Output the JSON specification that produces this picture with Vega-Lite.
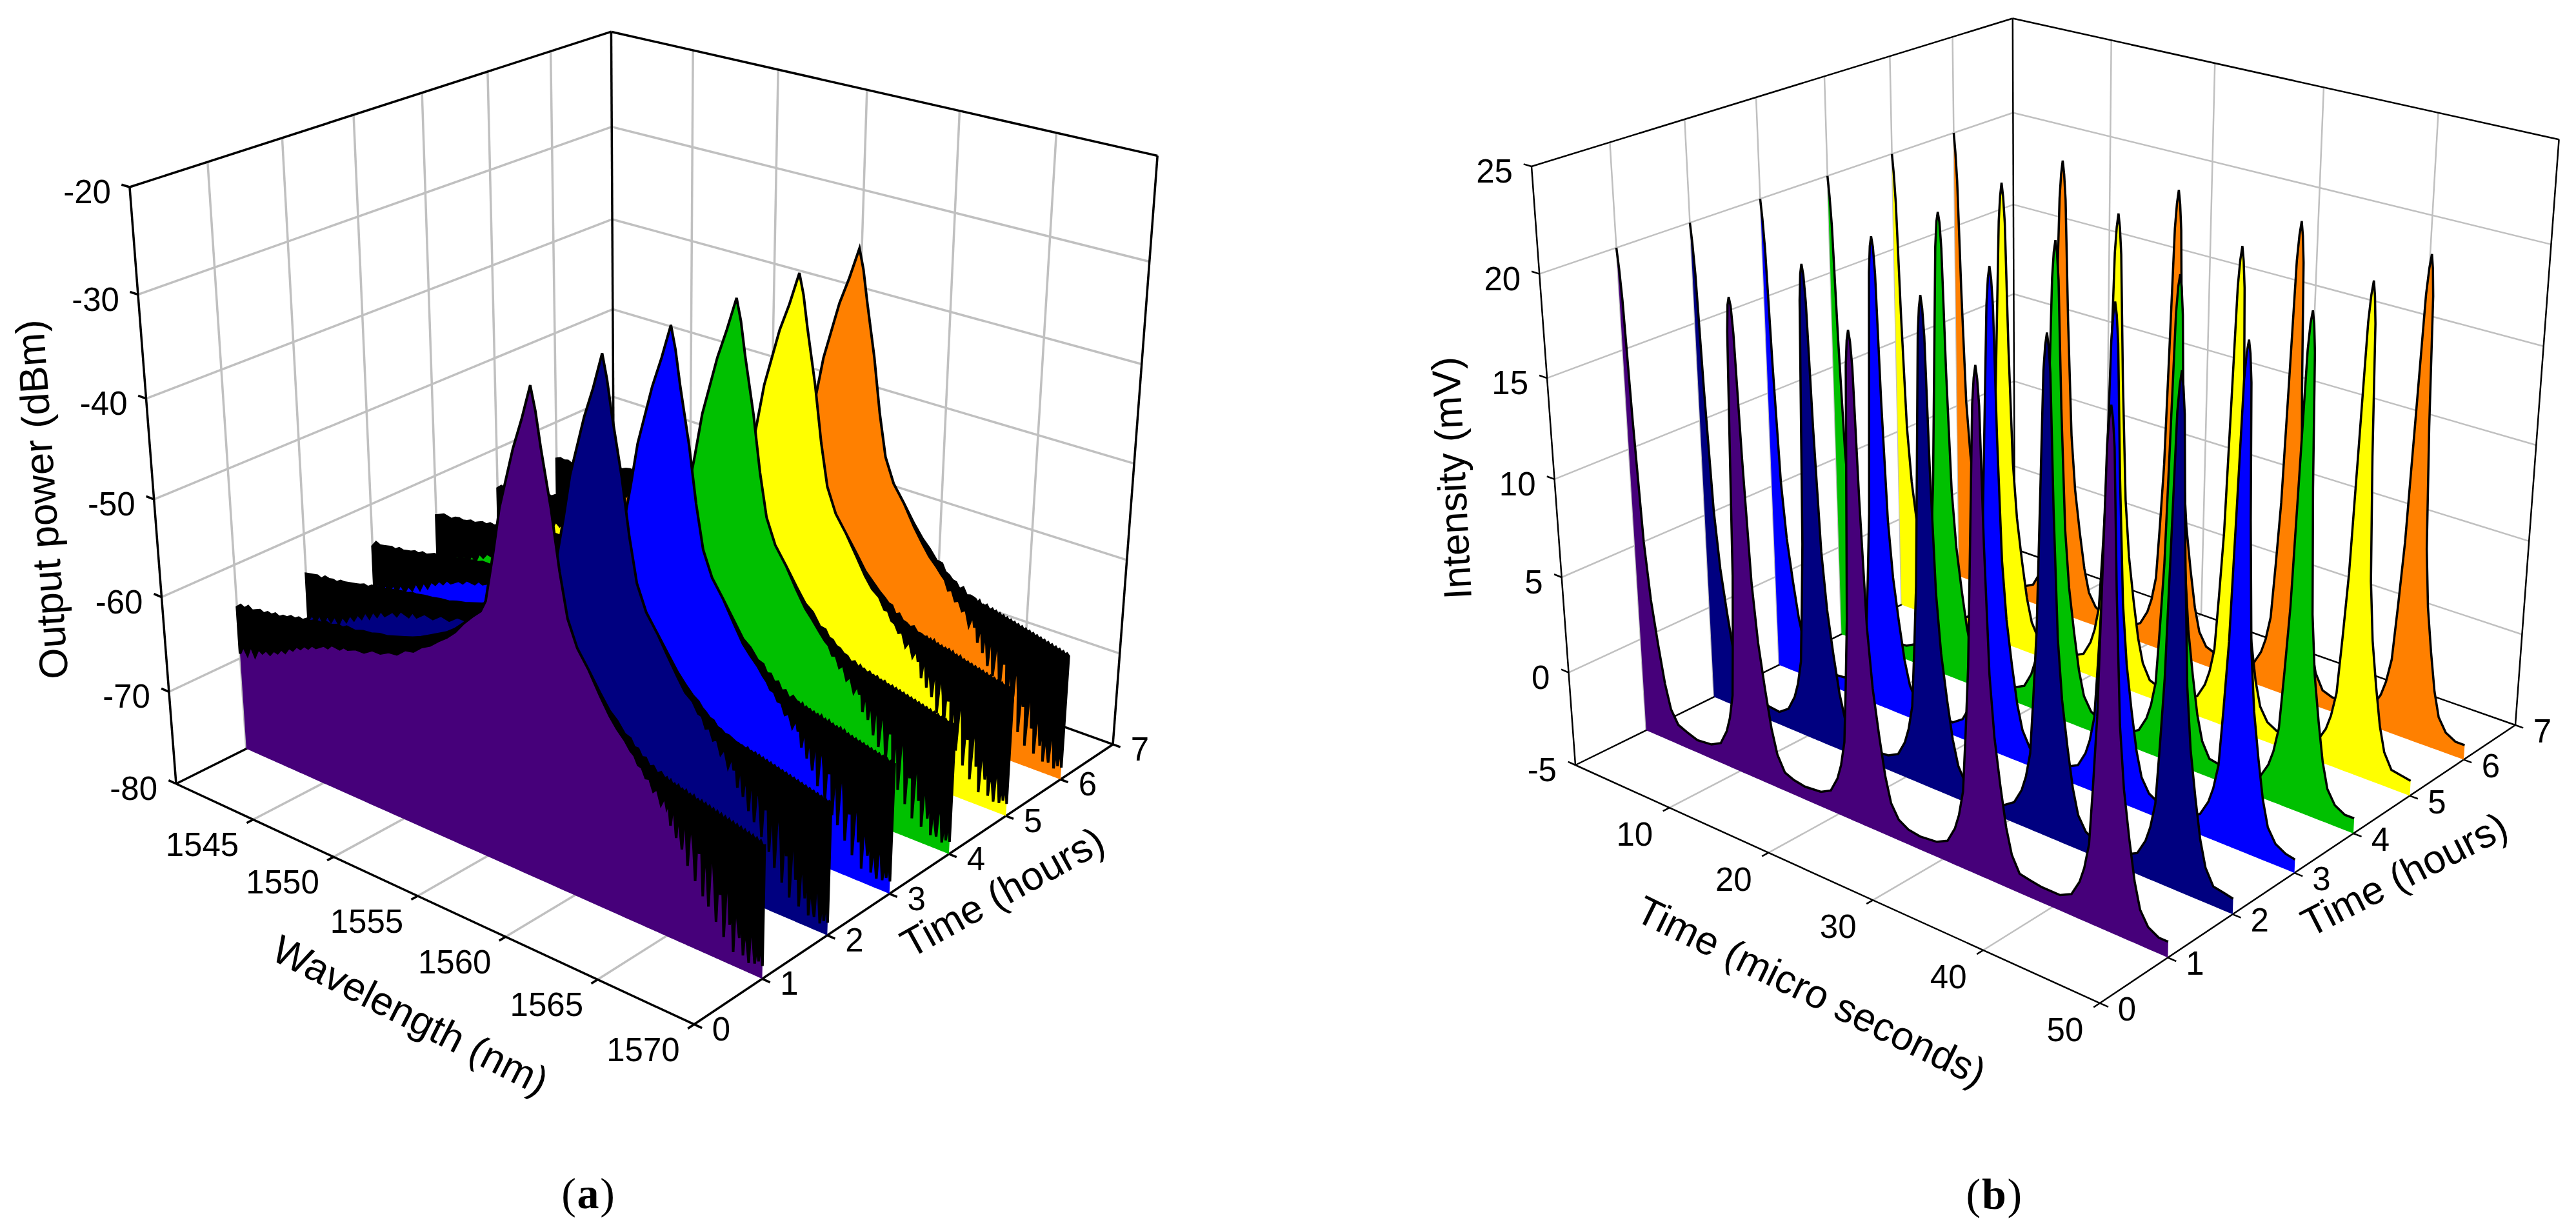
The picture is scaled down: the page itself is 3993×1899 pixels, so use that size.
{"$schema":"https://vega.github.io/schema/vega-lite/v6.json","width":3993,"height":1899,"padding":0,"autosize":"none","background":"white","config":{"view":{"stroke":null}},
"layer":[
{"data":{"values":[
{"k":"g","a":1545,"b":7,"c":-80,"d":1545,"e":7,"f":-20},{"k":"g","a":1550,"b":7,"c":-80,"d":1550,"e":7,"f":-20},{"k":"g","a":1555,"b":7,"c":-80,"d":1555,"e":7,"f":-20},{"k":"g","a":1560,"b":7,"c":-80,"d":1560,"e":7,"f":-20},{"k":"g","a":1565,"b":7,"c":-80,"d":1565,"e":7,"f":-20},
{"k":"g","a":1540,"b":7,"c":-30,"d":1570,"e":7,"f":-30},{"k":"g","a":1540,"b":7,"c":-40,"d":1570,"e":7,"f":-40},{"k":"g","a":1540,"b":7,"c":-50,"d":1570,"e":7,"f":-50},{"k":"g","a":1540,"b":7,"c":-60,"d":1570,"e":7,"f":-60},{"k":"g","a":1540,"b":7,"c":-70,"d":1570,"e":7,"f":-70},
{"k":"g","a":1540,"b":1,"c":-80,"d":1540,"e":1,"f":-20},{"k":"g","a":1540,"b":2,"c":-80,"d":1540,"e":2,"f":-20},{"k":"g","a":1540,"b":3,"c":-80,"d":1540,"e":3,"f":-20},{"k":"g","a":1540,"b":4,"c":-80,"d":1540,"e":4,"f":-20},{"k":"g","a":1540,"b":5,"c":-80,"d":1540,"e":5,"f":-20},{"k":"g","a":1540,"b":6,"c":-80,"d":1540,"e":6,"f":-20},
{"k":"g","a":1540,"b":0,"c":-30,"d":1540,"e":7,"f":-30},{"k":"g","a":1540,"b":0,"c":-40,"d":1540,"e":7,"f":-40},{"k":"g","a":1540,"b":0,"c":-50,"d":1540,"e":7,"f":-50},{"k":"g","a":1540,"b":0,"c":-60,"d":1540,"e":7,"f":-60},{"k":"g","a":1540,"b":0,"c":-70,"d":1540,"e":7,"f":-70},
{"k":"g","a":1545,"b":0,"c":-80,"d":1545,"e":7,"f":-80},{"k":"g","a":1550,"b":0,"c":-80,"d":1550,"e":7,"f":-80},{"k":"g","a":1555,"b":0,"c":-80,"d":1555,"e":7,"f":-80},{"k":"g","a":1560,"b":0,"c":-80,"d":1560,"e":7,"f":-80},{"k":"g","a":1565,"b":0,"c":-80,"d":1565,"e":7,"f":-80},
{"k":"f","a":1540,"b":0,"c":-80,"d":1570,"e":0,"f":-80},{"k":"f","a":1570,"b":0,"c":-80,"d":1570,"e":7,"f":-80},{"k":"f","a":1540,"b":0,"c":-80,"d":1540,"e":7,"f":-80},{"k":"f","a":1540,"b":7,"c":-80,"d":1570,"e":7,"f":-80},{"k":"f","a":1540,"b":0,"c":-80,"d":1540,"e":0,"f":-20},{"k":"f","a":1540,"b":0,"c":-20,"d":1540,"e":7,"f":-20},{"k":"f","a":1540,"b":7,"c":-20,"d":1570,"e":7,"f":-20},{"k":"f","a":1570,"b":7,"c":-80,"d":1570,"e":7,"f":-20},{"k":"f","a":1540,"b":7,"c":-80,"d":1540,"e":7,"f":-20},
{"k":"f","a":1540,"b":0,"c":-80,"d":1539.5,"e":0,"f":-80},{"k":"f","a":1540,"b":0,"c":-70,"d":1539.5,"e":0,"f":-70},{"k":"f","a":1540,"b":0,"c":-60,"d":1539.5,"e":0,"f":-60},{"k":"f","a":1540,"b":0,"c":-50,"d":1539.5,"e":0,"f":-50},{"k":"f","a":1540,"b":0,"c":-40,"d":1539.5,"e":0,"f":-40},{"k":"f","a":1540,"b":0,"c":-30,"d":1539.5,"e":0,"f":-30},{"k":"f","a":1540,"b":0,"c":-20,"d":1539.5,"e":0,"f":-20},
{"k":"f","a":1545,"b":0,"c":-80,"d":1545,"e":-0.09,"f":-80},{"k":"f","a":1550,"b":0,"c":-80,"d":1550,"e":-0.09,"f":-80},{"k":"f","a":1555,"b":0,"c":-80,"d":1555,"e":-0.09,"f":-80},{"k":"f","a":1560,"b":0,"c":-80,"d":1560,"e":-0.09,"f":-80},{"k":"f","a":1565,"b":0,"c":-80,"d":1565,"e":-0.09,"f":-80},{"k":"f","a":1570,"b":0,"c":-80,"d":1570,"e":-0.09,"f":-80},
{"k":"f","a":1570,"b":0,"c":-80,"d":1570.4,"e":0,"f":-80},{"k":"f","a":1570,"b":1,"c":-80,"d":1570.4,"e":1,"f":-80},{"k":"f","a":1570,"b":2,"c":-80,"d":1570.4,"e":2,"f":-80},{"k":"f","a":1570,"b":3,"c":-80,"d":1570.4,"e":3,"f":-80},{"k":"f","a":1570,"b":4,"c":-80,"d":1570.4,"e":4,"f":-80},{"k":"f","a":1570,"b":5,"c":-80,"d":1570.4,"e":5,"f":-80},{"k":"f","a":1570,"b":6,"c":-80,"d":1570.4,"e":6,"f":-80},{"k":"f","a":1570,"b":7,"c":-80,"d":1570.4,"e":7,"f":-80}
]},
"transform":[
{"calculate":"(datum.a-1540)/30","as":"u"},{"calculate":"datum.b/7","as":"v"},{"calculate":"(datum.c+80)/60","as":"w"},
{"calculate":"1-.1263*datum.u+.1447*datum.v-.0894*datum.w","as":"W"},
{"calculate":"(273+667*datum.u+816.8*datum.v-90*datum.w)/datum.W","as":"sx"},
{"calculate":"(1215+172.4*datum.u-212.2*datum.v-950.9*datum.w)/datum.W","as":"sy"},
{"calculate":"(datum.d-1540)/30","as":"u2"},{"calculate":"datum.e/7","as":"v2"},{"calculate":"(datum.f+80)/60","as":"w2"},
{"calculate":"1-.1263*datum.u2+.1447*datum.v2-.0894*datum.w2","as":"W2"},
{"calculate":"(273+667*datum.u2+816.8*datum.v2-90*datum.w2)/datum.W2","as":"sx2"},
{"calculate":"(1215+172.4*datum.u2-212.2*datum.v2-950.9*datum.w2)/datum.W2","as":"sy2"}],
"encoding":{"x":{"field":"sx","type":"quantitative","axis":null,"scale":{"domain":[0,3993],"nice":false,"zero":false}},"y":{"field":"sy","type":"quantitative","axis":null,"scale":{"domain":[0,1899],"reverse":true,"nice":false,"zero":false}},"x2":{"field":"sx2"},"y2":{"field":"sy2"}},
"layer":[
{"transform":[{"filter":"datum.k=='g'"}],"mark":{"type":"rule","color":"#C0C0C0","strokeWidth":3.5}},
{"transform":[{"filter":"datum.k=='f'"}],"mark":{"type":"rule","color":"#000","strokeWidth":3.5}}
]},
{"data":{"values":[
{"x":1540,"a":-64.5,"b":-64.3,"c":-64.6,"d":-64.4,"e":-64.5,"f":-64.2,"n":5},
{"x":1540.25,"a":-64.1,"b":-64.2,"c":-64,"d":-64.2,"e":-64.1,"f":-64,"n":4.4},
{"x":1540.5,"a":-64.3,"b":-64.1,"c":-64.2,"d":-64,"e":-64.2,"f":-64.1,"n":5},
{"x":1540.75,"a":-63.9,"b":-64,"c":-64.1,"d":-64.1,"e":-63.9,"f":-64,"n":4.2},
{"x":1541,"a":-64.2,"b":-64.2,"c":-64,"d":-64.2,"e":-64.1,"f":-64.2,"n":4.9},
{"x":1541.25,"a":-64,"b":-63.8,"c":-63.9,"d":-63.9,"e":-64,"f":-63.8,"n":4.1},
{"x":1541.5,"a":-63.8,"b":-63.9,"c":-64,"d":-63.8,"e":-63.8,"f":-63.9,"n":4.6},
{"x":1541.75,"a":-64,"b":-63.8,"c":-63.7,"d":-63.9,"e":-63.9,"f":-63.7,"n":3.9},
{"x":1542,"a":-63.7,"b":-63.9,"c":-63.8,"d":-63.8,"e":-63.7,"f":-63.8,"n":4.5},
{"x":1542.25,"a":-63.8,"b":-63.6,"c":-63.7,"d":-63.6,"e":-63.8,"f":-63.6,"n":3.8},
{"x":1542.5,"a":-63.5,"b":-63.6,"c":-63.6,"d":-63.7,"e":-63.5,"f":-63.7,"n":4.2},
{"x":1542.75,"a":-63.7,"b":-63.5,"c":-63.4,"d":-63.5,"e":-63.6,"f":-63.5,"n":3.4},
{"x":1543,"a":-63.4,"b":-63.4,"c":-63.5,"d":-63.3,"e":-63.4,"f":-63.4,"n":3.9},
{"x":1543.25,"a":-63.4,"b":-63.3,"c":-63.2,"d":-63.4,"e":-63.2,"f":-63.3,"n":3.2},
{"x":1543.5,"a":-63.1,"b":-63.2,"c":-63.3,"d":-63.1,"e":-63.3,"f":-63.1,"n":3.6},
{"x":1543.75,"a":-63.2,"b":-63,"c":-63.1,"d":-63.2,"e":-63,"f":-63.2,"n":2.9},
{"x":1544,"a":-62.9,"b":-63.1,"c":-62.9,"d":-63,"e":-63,"f":-62.9,"n":3.3},
{"x":1544.25,"a":-63,"b":-62.8,"c":-62.9,"d":-62.8,"e":-62.9,"f":-62.9,"n":2.7},
{"x":1544.5,"a":-62.7,"b":-62.8,"c":-62.7,"d":-62.9,"e":-62.7,"f":-62.7,"n":3.1},
{"x":1544.75,"a":-62.8,"b":-62.6,"c":-62.7,"d":-62.6,"e":-62.8,"f":-62.6,"n":2.5},
{"x":1545,"a":-62.5,"b":-62.6,"c":-62.5,"d":-62.6,"e":-62.5,"f":-62.6,"n":2.9},
{"x":1545.5,"a":-62.5,"b":-62.4,"c":-62.5,"d":-62.4,"e":-62.4,"f":-62.5,"n":2.3},
{"x":1545.75,"a":-62.2,"b":-62.3,"c":-62.2,"d":-62.3,"e":-62.3,"f":-62.2,"n":2.7},
{"x":1546,"a":-62.3,"b":-62.2,"c":-62.3,"d":-62.1,"e":-62.2,"f":-62.3,"n":2.1},
{"x":1546.5,"a":-62,"b":-62.1,"c":-62,"d":-62.1,"e":-62,"f":-62,"n":2.5},
{"x":1546.75,"a":-62.1,"b":-61.9,"c":-62,"d":-61.9,"e":-62,"f":-61.9,"n":2},
{"x":1547,"a":-61.8,"b":-61.9,"c":-61.8,"d":-61.9,"e":-61.8,"f":-61.9,"n":2.4},
{"x":1547.5,"a":-61.9,"b":-61.7,"c":-61.8,"d":-61.7,"e":-61.7,"f":-61.8,"n":1.9},
{"x":1548,"a":-61.6,"b":-61.6,"c":-61.6,"d":-61.7,"e":-61.5,"f":-61.6,"n":2.2},
{"x":1548.5,"a":-61.5,"b":-61.4,"c":-61.5,"d":-61.4,"e":-61.5,"f":-61.4,"n":1.7},
{"x":1549,"a":-61.2,"b":-61.3,"c":-61.2,"d":-61.2,"e":-61.3,"f":-61.2,"n":2},
{"x":1549.5,"a":-61.1,"b":-61,"c":-61.1,"d":-61,"e":-61,"f":-61.1,"n":1.6},
{"x":1550,"a":-60.8,"b":-60.8,"c":-60.8,"d":-60.9,"e":-60.8,"f":-60.8,"n":1.8},
{"x":1550.5,"a":-60.5,"b":-60.5,"c":-60.5,"d":-60.4,"e":-60.5,"f":-60.5,"n":1.3},
{"x":1551,"a":-60.2,"b":-60.2,"c":-60.2,"d":-60.2,"e":-60.2,"f":-60.2,"n":1.4},
{"x":1551.5,"a":-59.8,"b":-59.8,"c":-59.8,"d":-59.8,"e":-59.8,"f":-59.8,"n":1},
{"x":1552,"a":-59.3,"b":-59.3,"c":-59.3,"d":-59.3,"e":-59.3,"f":-59.3,"n":1},
{"x":1552.5,"a":-58.8,"b":-58.8,"c":-58.8,"d":-58.8,"e":-58.8,"f":-58.8,"n":0.7},
{"x":1553,"a":-58.3,"b":-58.3,"c":-58.3,"d":-58.3,"e":-58.3,"f":-58.3,"n":0.5},
{"x":1553.5,"a":-57.6,"b":-57.6,"c":-57.6,"d":-57.6,"e":-57.6,"f":-57.6,"n":0.3},
{"x":1554,"a":-56.7,"b":-56.7,"c":-56.7,"d":-56.7,"e":-56.7,"f":-56.7,"n":0},
{"x":1554.5,"a":-55.7,"b":-55.7,"c":-55.7,"d":-55.7,"e":-55.7,"f":-55.7,"n":0},
{"x":1555,"a":-54.8,"b":-54.8,"c":-54.8,"d":-54.8,"e":-54.8,"f":-54.8,"n":0},
{"x":1555.3,"a":-53.6,"b":-53.6,"c":-53.6,"d":-53.6,"e":-53.6,"f":-53.6,"n":0},
{"x":1555.8,"a":-48.5,"b":-48.5,"c":-48.5,"d":-48.5,"e":-48.5,"f":-48.5,"n":0},
{"x":1556.2,"a":-44,"b":-44,"c":-44,"d":-44,"e":-44,"f":-44,"n":0},
{"x":1556.6,"a":-41,"b":-41,"c":-41,"d":-41,"e":-41,"f":-41,"n":0},
{"x":1557,"a":-38,"b":-38,"c":-38,"d":-38,"e":-38,"f":-38,"n":0},
{"x":1557.5,"a":-35,"b":-35,"c":-35,"d":-35,"e":-35.2,"f":-35.2,"n":0},
{"x":1558,"a":-31.6,"b":-31.5,"c":-31.6,"d":-31.7,"e":-31.9,"f":-32,"n":0},
{"x":1558.25,"a":-33.8,"b":-33.8,"c":-33.8,"d":-33.8,"e":-33.9,"f":-34,"n":0},
{"x":1558.5,"a":-37,"b":-37,"c":-37,"d":-37,"e":-37,"f":-37,"n":0},
{"x":1559,"a":-42.5,"b":-42.5,"c":-42.5,"d":-42.5,"e":-42.5,"f":-42.5,"n":0},
{"x":1559.4,"a":-48,"b":-48,"c":-48,"d":-48,"e":-48,"f":-48,"n":0},
{"x":1559.8,"a":-52.3,"b":-52.3,"c":-52.3,"d":-52.3,"e":-52.3,"f":-52.3,"n":0},
{"x":1560.3,"a":-54.8,"b":-54.8,"c":-54.8,"d":-54.8,"e":-54.8,"f":-54.8,"n":0},
{"x":1560.9,"a":-56.5,"b":-56.5,"c":-56.5,"d":-56.5,"e":-56.5,"f":-56.5,"n":0},
{"x":1561.5,"a":-58.3,"b":-58.2,"c":-58.3,"d":-58.3,"e":-58.2,"f":-58.3,"n":0.3},
{"x":1562,"a":-59.7,"b":-59.6,"c":-59.8,"d":-59.7,"e":-59.7,"f":-59.6,"n":0.5},
{"x":1562.4,"a":-60.4,"b":-60.5,"c":-60.4,"d":-60.3,"e":-60.5,"f":-60.4,"n":0.8},
{"x":1562.8,"a":-61.4,"b":-61.3,"c":-61.4,"d":-61.5,"e":-61.3,"f":-61.4,"n":0.6},
{"x":1563.1,"a":-61.6,"b":-61.7,"c":-61.6,"d":-61.6,"e":-61.8,"f":-61.5,"n":1.2},
{"x":1563.3,"a":-62.3,"b":-62.2,"c":-62.4,"d":-62.3,"e":-62.2,"f":-62.3,"n":0.8},
{"x":1563.5,"a":-62.3,"b":-62.5,"c":-62.3,"d":-62.4,"e":-62.3,"f":-62.5,"n":1.6},
{"x":1563.7,"a":-63,"b":-62.9,"c":-63,"d":-62.9,"e":-63.1,"f":-62.9,"n":1},
{"x":1563.9,"a":-62.9,"b":-63,"c":-62.8,"d":-63,"e":-62.9,"f":-63,"n":2},
{"x":1564.1,"a":-63.6,"b":-63.5,"c":-63.6,"d":-63.4,"e":-63.5,"f":-63.6,"n":1.2},
{"x":1564.3,"a":-63.4,"b":-63.6,"c":-63.4,"d":-63.5,"e":-63.6,"f":-63.3,"n":2.5},
{"x":1564.5,"a":-64,"b":-63.9,"c":-64.1,"d":-64,"e":-63.9,"f":-64,"n":1.5},
{"x":1564.7,"a":-63.7,"b":-63.9,"c":-63.7,"d":-63.8,"e":-63.7,"f":-63.9,"n":3.2},
{"x":1564.9,"a":-64.2,"b":-64.1,"c":-64.1,"d":-64.3,"e":-64.2,"f":-64,"n":1.8},
{"x":1565,"a":-64,"b":-64.2,"c":-64.1,"d":-64,"e":-64.2,"f":-64.1,"n":3},
{"x":1565.1,"a":-64.4,"b":-64.3,"c":-64.4,"d":-64.3,"e":-64.2,"f":-64.4,"n":2},
{"x":1565.2,"a":-64.1,"b":-64.3,"c":-64.1,"d":-64.2,"e":-64.3,"f":-64.1,"n":4.5},
{"x":1565.3,"a":-64.5,"b":-64.4,"c":-64.6,"d":-64.4,"e":-64.4,"f":-64.5,"n":2.5},
{"x":1565.4,"a":-64.3,"b":-64.4,"c":-64.3,"d":-64.5,"e":-64.3,"f":-64.4,"n":3},
{"x":1565.5,"a":-64.6,"b":-64.5,"c":-64.5,"d":-64.3,"e":-64.6,"f":-64.5,"n":5},
{"x":1565.6,"a":-64.3,"b":-64.6,"c":-64.4,"d":-64.6,"e":-64.4,"f":-64.3,"n":2.5},
{"x":1565.7,"a":-64.7,"b":-64.4,"c":-64.7,"d":-64.5,"e":-64.7,"f":-64.6,"n":4},
{"x":1565.8,"a":-64.5,"b":-64.7,"c":-64.5,"d":-64.7,"e":-64.4,"f":-64.7,"n":6},
{"x":1565.9,"a":-64.8,"b":-64.6,"c":-64.8,"d":-64.5,"e":-64.8,"f":-64.5,"n":3},
{"x":1566,"a":-64.5,"b":-64.8,"c":-64.6,"d":-64.8,"e":-64.6,"f":-64.8,"n":3.5},
{"x":1566.1,"a":-64.9,"b":-64.6,"c":-64.9,"d":-64.7,"e":-64.9,"f":-64.6,"n":7},
{"x":1566.2,"a":-64.7,"b":-64.9,"c":-64.6,"d":-64.9,"e":-64.7,"f":-64.9,"n":4},
{"x":1566.3,"a":-65,"b":-64.7,"c":-65,"d":-64.7,"e":-65,"f":-64.7,"n":3},
{"x":1566.4,"a":-64.7,"b":-65,"c":-64.8,"d":-65,"e":-64.8,"f":-65,"n":5},
{"x":1566.5,"a":-65.1,"b":-64.8,"c":-65.1,"d":-64.9,"e":-65,"f":-64.8,"n":8},
{"x":1566.6,"a":-64.9,"b":-65.1,"c":-64.8,"d":-65.1,"e":-64.8,"f":-65.1,"n":3.5},
{"x":1566.7,"a":-65.2,"b":-64.9,"c":-65.2,"d":-64.9,"e":-65.2,"f":-64.9,"n":5},
{"x":1566.8,"a":-64.9,"b":-65.2,"c":-65,"d":-65.2,"e":-64.9,"f":-65.2,"n":4},
{"x":1566.9,"a":-65.3,"b":-65,"c":-65.3,"d":-65,"e":-65.3,"f":-65,"n":9},
{"x":1567,"a":-65,"b":-65.3,"c":-65.1,"d":-65.3,"e":-65.1,"f":-65.3,"n":4.5},
{"x":1567.1,"a":-65.4,"b":-65.1,"c":-65.4,"d":-65.1,"e":-65.4,"f":-65.1,"n":6},
{"x":1567.2,"a":-65.1,"b":-65.4,"c":-65.1,"d":-65.4,"e":-65.1,"f":-65.4,"n":10},
{"x":1567.3,"a":-65.5,"b":-65.2,"c":-65.5,"d":-65.2,"e":-65.5,"f":-65.2,"n":5},
{"x":1567.4,"a":-65.2,"b":-65.5,"c":-65.2,"d":-65.5,"e":-65.3,"f":-65.5,"n":4.5},
{"x":1567.5,"a":-65.6,"b":-65.3,"c":-65.6,"d":-65.3,"e":-65.6,"f":-65.3,"n":7},
{"x":1567.6,"a":-65.3,"b":-65.6,"c":-65.4,"d":-65.6,"e":-65.4,"f":-65.6,"n":11},
{"x":1567.7,"a":-65.7,"b":-65.4,"c":-65.7,"d":-65.4,"e":-65.7,"f":-65.4,"n":5.5},
{"x":1567.8,"a":-65.4,"b":-65.7,"c":-65.5,"d":-65.7,"e":-65.5,"f":-65.7,"n":8},
{"x":1567.9,"a":-65.8,"b":-65.5,"c":-65.8,"d":-65.5,"e":-65.8,"f":-65.5,"n":6},
{"x":1568,"a":-65.5,"b":-65.8,"c":-65.6,"d":-65.8,"e":-65.6,"f":-65.8,"n":12},
{"x":1568.1,"a":-65.9,"b":-65.6,"c":-65.9,"d":-65.6,"e":-65.9,"f":-65.6,"n":7},
{"x":1568.2,"a":-65.6,"b":-65.9,"c":-65.7,"d":-65.9,"e":-65.7,"f":-65.9,"n":6},
{"x":1568.3,"a":-66,"b":-65.7,"c":-66,"d":-65.7,"e":-66,"f":-65.7,"n":10},
{"x":1568.4,"a":-65.7,"b":-66,"c":-65.8,"d":-66,"e":-65.8,"f":-66,"n":8},
{"x":1568.5,"a":-66.1,"b":-65.8,"c":-66.1,"d":-65.8,"e":-66.1,"f":-65.8,"n":12.5},
{"x":1568.6,"a":-65.8,"b":-66.1,"c":-65.9,"d":-66.1,"e":-65.9,"f":-66.1,"n":7},
{"x":1568.7,"a":-66.2,"b":-65.9,"c":-66.2,"d":-65.9,"e":-66.2,"f":-65.9,"n":9},
{"x":1568.8,"a":-65.9,"b":-66.2,"c":-66,"d":-66.2,"e":-66,"f":-66.2,"n":11},
{"x":1568.9,"a":-66.3,"b":-66,"c":-66.3,"d":-66,"e":-66.3,"f":-66,"n":8},
{"x":1569,"a":-66,"b":-66.3,"c":-66.1,"d":-66.3,"e":-66.1,"f":-66.3,"n":12.5},
{"x":1569.1,"a":-66.4,"b":-66.1,"c":-66.4,"d":-66.1,"e":-66.4,"f":-66.1,"n":9},
{"x":1569.2,"a":-66.1,"b":-66.4,"c":-66.2,"d":-66.4,"e":-66.2,"f":-66.4,"n":11},
{"x":1569.3,"a":-66.5,"b":-66.2,"c":-66.5,"d":-66.2,"e":-66.5,"f":-66.2,"n":12.5},
{"x":1569.4,"a":-66.2,"b":-66.5,"c":-66.3,"d":-66.5,"e":-66.3,"f":-66.5,"n":8},
{"x":1569.5,"a":-66.6,"b":-66.3,"c":-66.6,"d":-66.3,"e":-66.6,"f":-66.3,"n":10},
{"x":1569.6,"a":-66.3,"b":-66.6,"c":-66.4,"d":-66.6,"e":-66.4,"f":-66.6,"n":12.5},
{"x":1569.7,"a":-66.7,"b":-66.4,"c":-66.7,"d":-66.4,"e":-66.7,"f":-66.4,"n":10},
{"x":1569.8,"a":-66.4,"b":-66.7,"c":-66.5,"d":-66.7,"e":-66.5,"f":-66.7,"n":12},
{"x":1569.9,"a":-66.8,"b":-66.5,"c":-66.8,"d":-66.5,"e":-66.8,"f":-66.5,"n":9.5},
{"x":1570,"a":-66.7,"b":-66.7,"c":-66.7,"d":-66.7,"e":-66.7,"f":-66.7,"n":12}
]},
"transform":[
{"fold":["a","b","c","d","e","f"],"as":["s","hi"]},
{"calculate":"indexof('abcdef',datum.s)+1","as":"h"},
{"calculate":"datum.hi-datum.n","as":"lo"},
{"calculate":"-80","as":"floor"},
{"fold":["hi","lo","floor"],"as":["side","p"]},
{"calculate":"datum.side=='hi'?datum.x:10000-datum.x","as":"ord"},
{"calculate":"(datum.x-1540)/30","as":"u"},{"calculate":"datum.h/7","as":"v"},{"calculate":"(datum.p+80)/60","as":"w"},
{"calculate":"1-.1263*datum.u+.1447*datum.v-.0894*datum.w","as":"W"},
{"calculate":"(273+667*datum.u+816.8*datum.v-90*datum.w)/datum.W","as":"sx"},
{"calculate":"(1215+172.4*datum.u-212.2*datum.v-950.9*datum.w)/datum.W","as":"sy"}],
"encoding":{"x":{"field":"sx","type":"quantitative"},"y":{"field":"sy","type":"quantitative"},"order":{"field":"ord","type":"quantitative"}},
"layer":[
{"transform":[{"filter":"datum.h==6&&datum.side!='lo'"}],"mark":{"type":"line","interpolate":"linear-closed","filled":true,"fill":"#FF8000"}},
{"transform":[{"filter":"datum.h==6&&datum.side!='floor'"}],"mark":{"type":"line","interpolate":"linear-closed","filled":true,"fill":"#000","stroke":"#000","strokeWidth":4}},
{"transform":[{"filter":"datum.h==5&&datum.side!='lo'"}],"mark":{"type":"line","interpolate":"linear-closed","filled":true,"fill":"#FFFF00"}},
{"transform":[{"filter":"datum.h==5&&datum.side!='floor'"}],"mark":{"type":"line","interpolate":"linear-closed","filled":true,"fill":"#000","stroke":"#000","strokeWidth":4}},
{"transform":[{"filter":"datum.h==4&&datum.side!='lo'"}],"mark":{"type":"line","interpolate":"linear-closed","filled":true,"fill":"#00C000"}},
{"transform":[{"filter":"datum.h==4&&datum.side!='floor'"}],"mark":{"type":"line","interpolate":"linear-closed","filled":true,"fill":"#000","stroke":"#000","strokeWidth":4}},
{"transform":[{"filter":"datum.h==3&&datum.side!='lo'"}],"mark":{"type":"line","interpolate":"linear-closed","filled":true,"fill":"#0000FF"}},
{"transform":[{"filter":"datum.h==3&&datum.side!='floor'"}],"mark":{"type":"line","interpolate":"linear-closed","filled":true,"fill":"#000","stroke":"#000","strokeWidth":4}},
{"transform":[{"filter":"datum.h==2&&datum.side!='lo'"}],"mark":{"type":"line","interpolate":"linear-closed","filled":true,"fill":"#000080"}},
{"transform":[{"filter":"datum.h==2&&datum.side!='floor'"}],"mark":{"type":"line","interpolate":"linear-closed","filled":true,"fill":"#000","stroke":"#000","strokeWidth":4}},
{"transform":[{"filter":"datum.h==1&&datum.side!='lo'"}],"mark":{"type":"line","interpolate":"linear-closed","filled":true,"fill":"#46007A"}},
{"transform":[{"filter":"datum.h==1&&datum.side!='floor'"}],"mark":{"type":"line","interpolate":"linear-closed","filled":true,"fill":"#000","stroke":"#000","strokeWidth":4}}
]},
{"data":{"values":[
{"k":"x","x":1545,"h":0,"p":-80,"t":"1545"},{"k":"x","x":1550,"h":0,"p":-80,"t":"1550"},{"k":"x","x":1555,"h":0,"p":-80,"t":"1555"},{"k":"x","x":1560,"h":0,"p":-80,"t":"1560"},{"k":"x","x":1565,"h":0,"p":-80,"t":"1565"},{"k":"x","x":1570,"h":0,"p":-80,"t":"1570"},
{"k":"z","x":1540,"h":0,"p":-20,"t":"-20"},{"k":"z","x":1540,"h":0,"p":-30,"t":"-30"},{"k":"z","x":1540,"h":0,"p":-40,"t":"-40"},{"k":"z","x":1540,"h":0,"p":-50,"t":"-50"},{"k":"z","x":1540,"h":0,"p":-60,"t":"-60"},{"k":"z","x":1540,"h":0,"p":-70,"t":"-70"},{"k":"z","x":1540,"h":0,"p":-80,"t":"-80"},
{"k":"h","x":1570,"h":0,"p":-80,"t":"0"},{"k":"h","x":1570,"h":1,"p":-80,"t":"1"},{"k":"h","x":1570,"h":2,"p":-80,"t":"2"},{"k":"h","x":1570,"h":3,"p":-80,"t":"3"},{"k":"h","x":1570,"h":4,"p":-80,"t":"4"},{"k":"h","x":1570,"h":5,"p":-80,"t":"5"},{"k":"h","x":1570,"h":6,"p":-80,"t":"6"},{"k":"h","x":1570,"h":7,"p":-80,"t":"7"},
{"k":"T1","x":1540,"h":0,"p":-50,"t":"Output power (dBm)"},{"k":"T2","x":1555,"h":0,"p":-80,"t":"Wavelength (nm)"},{"k":"T3","x":1570,"h":5,"p":-80,"t":"Time (hours)"},
{"k":"cl","x":1574.1,"h":-2.56,"p":-80,"t":"("},{"k":"c","x":1574.1,"h":-2.56,"p":-80,"t":"a"},{"k":"cr","x":1574.1,"h":-2.56,"p":-80,"t":")"}
]},
"transform":[
{"calculate":"(datum.x-1540)/30","as":"u"},{"calculate":"datum.h/7","as":"v"},{"calculate":"(datum.p+80)/60","as":"w"},
{"calculate":"1-.1263*datum.u+.1447*datum.v-.0894*datum.w","as":"W"},
{"calculate":"(273+667*datum.u+816.8*datum.v-90*datum.w)/datum.W","as":"sx"},
{"calculate":"(1215+172.4*datum.u-212.2*datum.v-950.9*datum.w)/datum.W","as":"sy"}],
"encoding":{"x":{"field":"sx","type":"quantitative"},"y":{"field":"sy","type":"quantitative"},"text":{"field":"t"}},
"layer":[
{"transform":[{"filter":"datum.k=='x'"}],"mark":{"type":"text","font":"Liberation Sans","fontSize":51,"dx":-79,"dy":42,"align":"center","baseline":"middle","color":"#000"}},
{"transform":[{"filter":"datum.k=='z'"}],"mark":{"type":"text","font":"Liberation Sans","fontSize":51,"dx":-29,"dy":10,"align":"right","baseline":"middle","color":"#000"}},
{"transform":[{"filter":"datum.k=='h'"}],"mark":{"type":"text","font":"Liberation Sans","fontSize":51,"dx":42,"dy":10,"align":"center","baseline":"middle","color":"#000"}},
{"transform":[{"filter":"datum.k=='T1'"}],"mark":{"type":"text","font":"Liberation Sans","fontSize":62,"dx":12,"dy":-171,"angle":266,"align":"center","baseline":"middle","color":"#000"}},
{"transform":[{"filter":"datum.k=='T2'"}],"mark":{"type":"text","font":"Liberation Sans","fontSize":62,"dx":74,"dy":172,"angle":27,"align":"center","baseline":"middle","color":"#000"}},
{"transform":[{"filter":"datum.k=='T3'"}],"mark":{"type":"text","font":"Liberation Sans","fontSize":62,"dx":-62,"dy":103,"angle":331,"align":"center","baseline":"middle","color":"#000"}},
{"transform":[{"filter":"datum.k=='cl'"}],"mark":{"type":"text","font":"Liberation Serif","fontSize":68,"dx":-30,"align":"center","baseline":"middle","color":"#000"}},
{"transform":[{"filter":"datum.k=='c'"}],"mark":{"type":"text","font":"Liberation Serif","fontSize":68,"fontWeight":"bold","align":"center","baseline":"middle","color":"#000"}},
{"transform":[{"filter":"datum.k=='cr'"}],"mark":{"type":"text","font":"Liberation Serif","fontSize":68,"dx":30,"align":"center","baseline":"middle","color":"#000"}}
]},
{"data":{"values":[
{"k":"g","a":10,"b":7,"c":-5,"d":10,"e":7,"f":25},{"k":"g","a":20,"b":7,"c":-5,"d":20,"e":7,"f":25},{"k":"g","a":30,"b":7,"c":-5,"d":30,"e":7,"f":25},{"k":"g","a":40,"b":7,"c":-5,"d":40,"e":7,"f":25},
{"k":"g","a":0,"b":7,"c":0,"d":50,"e":7,"f":0},{"k":"g","a":0,"b":7,"c":5,"d":50,"e":7,"f":5},{"k":"g","a":0,"b":7,"c":10,"d":50,"e":7,"f":10},{"k":"g","a":0,"b":7,"c":15,"d":50,"e":7,"f":15},{"k":"g","a":0,"b":7,"c":20,"d":50,"e":7,"f":20},
{"k":"g","a":0,"b":1,"c":-5,"d":0,"e":1,"f":25},{"k":"g","a":0,"b":2,"c":-5,"d":0,"e":2,"f":25},{"k":"g","a":0,"b":3,"c":-5,"d":0,"e":3,"f":25},{"k":"g","a":0,"b":4,"c":-5,"d":0,"e":4,"f":25},{"k":"g","a":0,"b":5,"c":-5,"d":0,"e":5,"f":25},{"k":"g","a":0,"b":6,"c":-5,"d":0,"e":6,"f":25},
{"k":"g","a":0,"b":0,"c":0,"d":0,"e":7,"f":0},{"k":"g","a":0,"b":0,"c":5,"d":0,"e":7,"f":5},{"k":"g","a":0,"b":0,"c":10,"d":0,"e":7,"f":10},{"k":"g","a":0,"b":0,"c":15,"d":0,"e":7,"f":15},{"k":"g","a":0,"b":0,"c":20,"d":0,"e":7,"f":20},
{"k":"g","a":10,"b":0,"c":-5,"d":10,"e":7,"f":-5},{"k":"g","a":20,"b":0,"c":-5,"d":20,"e":7,"f":-5},{"k":"g","a":30,"b":0,"c":-5,"d":30,"e":7,"f":-5},{"k":"g","a":40,"b":0,"c":-5,"d":40,"e":7,"f":-5},
{"k":"f","a":0,"b":0,"c":-5,"d":50,"e":0,"f":-5},{"k":"f","a":50,"b":0,"c":-5,"d":50,"e":7,"f":-5},{"k":"f","a":0,"b":0,"c":-5,"d":0,"e":7,"f":-5},{"k":"f","a":0,"b":7,"c":-5,"d":50,"e":7,"f":-5},{"k":"f","a":0,"b":0,"c":-5,"d":0,"e":0,"f":25},{"k":"f","a":0,"b":0,"c":25,"d":0,"e":7,"f":25},{"k":"f","a":0,"b":7,"c":25,"d":50,"e":7,"f":25},{"k":"f","a":50,"b":7,"c":-5,"d":50,"e":7,"f":25},{"k":"f","a":0,"b":7,"c":-5,"d":0,"e":7,"f":25},
{"k":"f","a":0,"b":0,"c":-5,"d":-0.8,"e":0,"f":-5},{"k":"f","a":0,"b":0,"c":0,"d":-0.8,"e":0,"f":0},{"k":"f","a":0,"b":0,"c":5,"d":-0.8,"e":0,"f":5},{"k":"f","a":0,"b":0,"c":10,"d":-0.8,"e":0,"f":10},{"k":"f","a":0,"b":0,"c":15,"d":-0.8,"e":0,"f":15},{"k":"f","a":0,"b":0,"c":20,"d":-0.8,"e":0,"f":20},{"k":"f","a":0,"b":0,"c":25,"d":-0.8,"e":0,"f":25},
{"k":"f","a":10,"b":0,"c":-5,"d":10,"e":-0.09,"f":-5},{"k":"f","a":20,"b":0,"c":-5,"d":20,"e":-0.09,"f":-5},{"k":"f","a":30,"b":0,"c":-5,"d":30,"e":-0.09,"f":-5},{"k":"f","a":40,"b":0,"c":-5,"d":40,"e":-0.09,"f":-5},{"k":"f","a":50,"b":0,"c":-5,"d":50,"e":-0.09,"f":-5},
{"k":"f","a":50,"b":0,"c":-5,"d":50.7,"e":0,"f":-5},{"k":"f","a":50,"b":1,"c":-5,"d":50.7,"e":1,"f":-5},{"k":"f","a":50,"b":2,"c":-5,"d":50.7,"e":2,"f":-5},{"k":"f","a":50,"b":3,"c":-5,"d":50.7,"e":3,"f":-5},{"k":"f","a":50,"b":4,"c":-5,"d":50.7,"e":4,"f":-5},{"k":"f","a":50,"b":5,"c":-5,"d":50.7,"e":5,"f":-5},{"k":"f","a":50,"b":6,"c":-5,"d":50.7,"e":6,"f":-5},{"k":"f","a":50,"b":7,"c":-5,"d":50.7,"e":7,"f":-5}
]},
"transform":[
{"calculate":"datum.a/50","as":"u"},{"calculate":"datum.b/7","as":"v"},{"calculate":"(datum.c+5)/30","as":"w"},
{"calculate":"1-.1262*datum.u+.1524*datum.v-.0863*datum.w","as":"W"},
{"calculate":"(2442+402.2*datum.u+1156.9*datum.v-272.9*datum.w)/datum.W","as":"sx"},
{"calculate":"(1186+172.8*datum.u-205.3*datum.v-950.3*datum.w)/datum.W","as":"sy"},
{"calculate":"datum.d/50","as":"u2"},{"calculate":"datum.e/7","as":"v2"},{"calculate":"(datum.f+5)/30","as":"w2"},
{"calculate":"1-.1262*datum.u2+.1524*datum.v2-.0863*datum.w2","as":"W2"},
{"calculate":"(2442+402.2*datum.u2+1156.9*datum.v2-272.9*datum.w2)/datum.W2","as":"sx2"},
{"calculate":"(1186+172.8*datum.u2-205.3*datum.v2-950.3*datum.w2)/datum.W2","as":"sy2"}],
"encoding":{"x":{"field":"sx","type":"quantitative"},"y":{"field":"sy","type":"quantitative"},"x2":{"field":"sx2"},"y2":{"field":"sy2"}},
"layer":[
{"transform":[{"filter":"datum.k=='g'"}],"mark":{"type":"rule","color":"#C0C0C0","strokeWidth":2.5}},
{"transform":[{"filter":"datum.k=='f'"}],"mark":{"type":"rule","color":"#000","strokeWidth":2.5}}
]},
{"data":{"values":[
{"t":0,"a":20,"b":20,"c":20,"d":20,"e":20,"f":20},{"t":0.15,"a":19,"b":19,"c":19,"d":19,"e":19,"f":19},{"t":0.3,"a":17.5,"b":17.5,"c":17.5,"d":17.5,"e":17.5,"f":17.5},{"t":0.6,"a":11.6,"b":11.6,"c":11.6,"d":11.6,"e":11.6,"f":11.6},{"t":1,"a":5.4,"b":5.4,"c":5.4,"d":5.4,"e":5.4,"f":5.4},{"t":1.4,"a":2.4,"b":2.4,"c":2.4,"d":2.4,"e":2.4,"f":2.4},{"t":1.9,"a":0.1,"b":0.1,"c":0.1,"d":0.1,"e":0.1,"f":0.1},{"t":2.4,"a":-1.9,"b":-1.9,"c":-1.9,"d":-1.9,"e":-1.9,"f":-1.9},{"t":2.9,"a":-3.2,"b":-3.2,"c":-3.2,"d":-3.2,"e":-3.2,"f":-3.2},{"t":3.6,"a":-3.9,"b":-4,"c":-3.9,"d":-4,"e":-3.9,"f":-4},{"t":4.5,"a":-4.1,"b":-4.2,"c":-4.2,"d":-4.1,"e":-4.2,"f":-4.1},{"t":5.6,"a":-4.3,"b":-4.2,"c":-4.3,"d":-4.3,"e":-4.2,"f":-4.3},
{"t":7.1,"a":-4.2,"b":-4.3,"c":-4.2,"d":-4.2,"e":-4.3,"f":-4.2},{"t":8.1,"a":-3.9,"b":-3.9,"c":-3.9,"d":-3.9,"e":-3.9,"f":-3.9},{"t":8.8,"a":-3.1,"b":-3.1,"c":-3.1,"d":-3.1,"e":-3.1,"f":-3.1},{"t":9.2,"a":-2.3,"b":-2.3,"c":-2.3,"d":-2.3,"e":-2.3,"f":-2.3},{"t":9.6,"a":-1,"b":-1,"c":-1,"d":-1,"e":-1,"f":-1},{"t":9.9,"a":2,"b":2,"c":2,"d":2,"e":2,"f":2},{"t":10.2,"a":5.4,"b":5.4,"c":5.4,"d":5.4,"e":5.4,"f":5.4},{"t":10.5,"a":11.6,"b":11.6,"c":11.6,"d":11.6,"e":11.6,"f":11.6},{"t":10.8,"a":17.6,"b":17.8,"c":17.9,"d":17.9,"e":18,"f":18},{"t":10.95,"a":18.9,"b":19.1,"c":19.2,"d":19.2,"e":19.3,"f":19.3},{"t":11.1,"a":19.3,"b":19.6,"c":19.7,"d":19.7,"e":20,"f":20},{"t":11.25,"a":18.9,"b":19.1,"c":19.2,"d":19.2,"e":19.3,"f":19.3},{"t":11.4,"a":17.6,"b":17.8,"c":17.9,"d":17.9,"e":18,"f":18},{"t":11.7,"a":11.6,"b":11.6,"c":11.6,"d":11.6,"e":11.6,"f":11.6},{"t":12.1,"a":5.4,"b":5.4,"c":5.4,"d":5.4,"e":5.4,"f":5.4},{"t":12.5,"a":2.4,"b":2.4,"c":2.4,"d":2.4,"e":2.4,"f":2.4},{"t":13,"a":0.1,"b":0.1,"c":0.1,"d":0.1,"e":0.1,"f":0.1},{"t":13.5,"a":-1.9,"b":-1.9,"c":-1.9,"d":-1.9,"e":-1.9,"f":-1.9},{"t":14,"a":-3.2,"b":-3.2,"c":-3.2,"d":-3.2,"e":-3.2,"f":-3.2},{"t":14.7,"a":-4,"b":-3.9,"c":-4,"d":-3.9,"e":-4,"f":-3.9},{"t":15.6,"a":-4.2,"b":-4.1,"c":-4.2,"d":-4.2,"e":-4.1,"f":-4.2},{"t":16.7,"a":-4.3,"b":-4.3,"c":-4.2,"d":-4.3,"e":-4.3,"f":-4.2},
{"t":18.3,"a":-4.2,"b":-4.2,"c":-4.3,"d":-4.2,"e":-4.2,"f":-4.3},{"t":19.3,"a":-3.9,"b":-3.9,"c":-3.9,"d":-3.9,"e":-3.9,"f":-3.9},{"t":20,"a":-3.1,"b":-3.1,"c":-3.1,"d":-3.1,"e":-3.1,"f":-3.1},{"t":20.4,"a":-2.3,"b":-2.3,"c":-2.3,"d":-2.3,"e":-2.3,"f":-2.3},{"t":20.8,"a":-1,"b":-1,"c":-1,"d":-1,"e":-1,"f":-1},{"t":21.1,"a":2,"b":2,"c":2,"d":2,"e":2,"f":2},{"t":21.4,"a":5.4,"b":5.4,"c":5.4,"d":5.4,"e":5.4,"f":5.4},{"t":21.7,"a":11.6,"b":11.6,"c":11.6,"d":11.6,"e":11.6,"f":11.6},{"t":22,"a":17.8,"b":17.9,"c":18,"d":18,"e":18,"f":18},{"t":22.15,"a":19,"b":19.2,"c":19.3,"d":19.3,"e":19.3,"f":19.3},{"t":22.3,"a":19.5,"b":19.8,"c":19.9,"d":19.9,"e":20,"f":20},{"t":22.45,"a":19,"b":19.2,"c":19.3,"d":19.3,"e":19.3,"f":19.3},{"t":22.6,"a":17.8,"b":17.9,"c":18,"d":18,"e":18,"f":18},{"t":22.9,"a":11.6,"b":11.6,"c":11.6,"d":11.6,"e":11.6,"f":11.6},{"t":23.3,"a":5.4,"b":5.4,"c":5.4,"d":5.4,"e":5.4,"f":5.4},{"t":23.7,"a":2.4,"b":2.4,"c":2.4,"d":2.4,"e":2.4,"f":2.4},{"t":24.2,"a":0.1,"b":0.1,"c":0.1,"d":0.1,"e":0.1,"f":0.1},{"t":24.7,"a":-1.9,"b":-1.9,"c":-1.9,"d":-1.9,"e":-1.9,"f":-1.9},{"t":25.2,"a":-3.2,"b":-3.2,"c":-3.2,"d":-3.2,"e":-3.2,"f":-3.2},{"t":25.9,"a":-3.9,"b":-4,"c":-4,"d":-3.9,"e":-4,"f":-3.9},{"t":26.8,"a":-4.2,"b":-4.2,"c":-4.1,"d":-4.2,"e":-4.2,"f":-4.1},{"t":27.9,"a":-4.3,"b":-4.2,"c":-4.3,"d":-4.2,"e":-4.2,"f":-4.3},
{"t":29.5,"a":-4.2,"b":-4.3,"c":-4.2,"d":-4.3,"e":-4.2,"f":-4.2},{"t":30.5,"a":-3.9,"b":-3.9,"c":-3.9,"d":-3.9,"e":-3.9,"f":-3.9},{"t":31.2,"a":-3.1,"b":-3.1,"c":-3.1,"d":-3.1,"e":-3.1,"f":-3.1},{"t":31.6,"a":-2.3,"b":-2.3,"c":-2.3,"d":-2.3,"e":-2.3,"f":-2.3},{"t":32,"a":-1,"b":-1,"c":-1,"d":-1,"e":-1,"f":-1},{"t":32.3,"a":2,"b":2,"c":2,"d":2,"e":2,"f":2},{"t":32.6,"a":5.4,"b":5.4,"c":5.4,"d":5.4,"e":5.4,"f":5.4},{"t":32.9,"a":11.6,"b":11.6,"c":11.6,"d":11.6,"e":11.6,"f":11.6},{"t":33.2,"a":17.9,"b":18,"c":18,"d":18,"e":18,"f":18},{"t":33.35,"a":19.1,"b":19.2,"c":19.3,"d":19.3,"e":19.3,"f":19.3},{"t":33.5,"a":19.7,"b":19.8,"c":19.9,"d":19.9,"e":20,"f":20},{"t":33.65,"a":19.1,"b":19.2,"c":19.3,"d":19.3,"e":19.3,"f":19.3},{"t":33.8,"a":17.9,"b":18,"c":18,"d":18,"e":18,"f":18},{"t":34.1,"a":11.6,"b":11.6,"c":11.6,"d":11.6,"e":11.6,"f":11.6},{"t":34.5,"a":5.4,"b":5.4,"c":5.4,"d":5.4,"e":5.4,"f":5.4},{"t":34.9,"a":2.4,"b":2.4,"c":2.4,"d":2.4,"e":2.4,"f":2.4},{"t":35.4,"a":0.1,"b":0.1,"c":0.1,"d":0.1,"e":0.1,"f":0.1},{"t":35.9,"a":-1.9,"b":-1.9,"c":-1.9,"d":-1.9,"e":-1.9,"f":-1.9},{"t":36.4,"a":-3.2,"b":-3.2,"c":-3.2,"d":-3.2,"e":-3.2,"f":-3.2},{"t":37.1,"a":-4,"b":-3.9,"c":-3.9,"d":-4,"e":-3.9,"f":-4},{"t":38,"a":-4.1,"b":-4.2,"c":-4.2,"d":-4.1,"e":-4.2,"f":-4.2},{"t":39.1,"a":-4.2,"b":-4.3,"c":-4.2,"d":-4.2,"e":-4.3,"f":-4.2},
{"t":40.7,"a":-4.2,"b":-4.2,"c":-4.3,"d":-4.2,"e":-4.2,"f":-4.3},{"t":41.7,"a":-3.9,"b":-3.9,"c":-3.9,"d":-3.9,"e":-3.9,"f":-3.9},{"t":42.4,"a":-3.1,"b":-3.1,"c":-3.1,"d":-3.1,"e":-3.1,"f":-3.1},{"t":42.8,"a":-2.3,"b":-2.3,"c":-2.3,"d":-2.3,"e":-2.3,"f":-2.3},{"t":43.2,"a":-1,"b":-1,"c":-1,"d":-1,"e":-1,"f":-1},{"t":43.5,"a":2,"b":2,"c":2,"d":2,"e":2,"f":2},{"t":43.8,"a":5.4,"b":5.4,"c":5.4,"d":5.4,"e":5.4,"f":5.4},{"t":44.1,"a":11.6,"b":11.6,"c":11.6,"d":11.6,"e":11.6,"f":11.6},{"t":44.4,"a":18,"b":18,"c":18,"d":18,"e":18,"f":18},{"t":44.55,"a":19.2,"b":19.2,"c":19.3,"d":19.3,"e":19.3,"f":19.3},{"t":44.7,"a":19.8,"b":19.9,"c":19.9,"d":19.9,"e":20,"f":20},{"t":44.85,"a":19.2,"b":19.2,"c":19.3,"d":19.3,"e":19.3,"f":19.3},{"t":45,"a":18,"b":18,"c":18,"d":18,"e":18,"f":18},{"t":45.3,"a":11.6,"b":11.6,"c":11.6,"d":11.6,"e":11.6,"f":11.6},{"t":45.7,"a":5.4,"b":5.4,"c":5.4,"d":5.4,"e":5.4,"f":5.4},{"t":46.1,"a":2.4,"b":2.4,"c":2.4,"d":2.4,"e":2.4,"f":2.4},{"t":46.6,"a":0.1,"b":0.1,"c":0.1,"d":0.1,"e":0.1,"f":0.1},{"t":47.1,"a":-1.9,"b":-1.9,"c":-1.9,"d":-1.9,"e":-1.9,"f":-1.9},{"t":47.6,"a":-3.2,"b":-3.2,"c":-3.2,"d":-3.2,"e":-3.2,"f":-3.2},{"t":48.3,"a":-3.9,"b":-4,"c":-3.9,"d":-3.9,"e":-4,"f":-3.9},{"t":49.2,"a":-4.2,"b":-4.1,"c":-4.2,"d":-4.2,"e":-4.1,"f":-4.2},{"t":50,"a":-4.2,"b":-4.2,"c":-4.3,"d":-4.2,"e":-4.2,"f":-4.2}
]},
"transform":[
{"fold":["a","b","c","d","e","f"],"as":["s","top"]},
{"calculate":"indexof('abcdef',datum.s)+1","as":"h"},
{"calculate":"-5","as":"floor"},
{"fold":["top","floor"],"as":["side","p"]},
{"calculate":"datum.side=='top'?datum.t:1000-datum.t","as":"ord"},
{"calculate":"datum.t/50","as":"u"},{"calculate":"datum.h/7","as":"v"},{"calculate":"(datum.p+5)/30","as":"w"},
{"calculate":"1-.1262*datum.u+.1524*datum.v-.0863*datum.w","as":"W"},
{"calculate":"(2442+402.2*datum.u+1156.9*datum.v-272.9*datum.w)/datum.W","as":"sx"},
{"calculate":"(1186+172.8*datum.u-205.3*datum.v-950.3*datum.w)/datum.W","as":"sy"}],
"encoding":{"x":{"field":"sx","type":"quantitative"},"y":{"field":"sy","type":"quantitative"},"order":{"field":"ord","type":"quantitative"}},
"layer":[
{"transform":[{"filter":"datum.h==6"}],"mark":{"type":"line","interpolate":"linear-closed","filled":true,"fill":"#FF8000"}},
{"transform":[{"filter":"datum.h==6&&datum.side=='top'"}],"mark":{"type":"line","stroke":"#000","strokeWidth":3.5}},
{"transform":[{"filter":"datum.h==5"}],"mark":{"type":"line","interpolate":"linear-closed","filled":true,"fill":"#FFFF00"}},
{"transform":[{"filter":"datum.h==5&&datum.side=='top'"}],"mark":{"type":"line","stroke":"#000","strokeWidth":3.5}},
{"transform":[{"filter":"datum.h==4"}],"mark":{"type":"line","interpolate":"linear-closed","filled":true,"fill":"#00C000"}},
{"transform":[{"filter":"datum.h==4&&datum.side=='top'"}],"mark":{"type":"line","stroke":"#000","strokeWidth":3.5}},
{"transform":[{"filter":"datum.h==3"}],"mark":{"type":"line","interpolate":"linear-closed","filled":true,"fill":"#0000FF"}},
{"transform":[{"filter":"datum.h==3&&datum.side=='top'"}],"mark":{"type":"line","stroke":"#000","strokeWidth":3.5}},
{"transform":[{"filter":"datum.h==2"}],"mark":{"type":"line","interpolate":"linear-closed","filled":true,"fill":"#000080"}},
{"transform":[{"filter":"datum.h==2&&datum.side=='top'"}],"mark":{"type":"line","stroke":"#000","strokeWidth":3.5}},
{"transform":[{"filter":"datum.h==1"}],"mark":{"type":"line","interpolate":"linear-closed","filled":true,"fill":"#46007A"}},
{"transform":[{"filter":"datum.h==1&&datum.side=='top'"}],"mark":{"type":"line","stroke":"#000","strokeWidth":3.5}}
]},
{"data":{"values":[
{"k":"x","x":10,"h":0,"p":-5,"t":"10"},{"k":"x","x":20,"h":0,"p":-5,"t":"20"},{"k":"x","x":30,"h":0,"p":-5,"t":"30"},{"k":"x","x":40,"h":0,"p":-5,"t":"40"},{"k":"x","x":50,"h":0,"p":-5,"t":"50"},
{"k":"z","x":0,"h":0,"p":25,"t":"25"},{"k":"z","x":0,"h":0,"p":20,"t":"20"},{"k":"z","x":0,"h":0,"p":15,"t":"15"},{"k":"z","x":0,"h":0,"p":10,"t":"10"},{"k":"z","x":0,"h":0,"p":5,"t":"5"},{"k":"z","x":0,"h":0,"p":0,"t":"0"},{"k":"z","x":0,"h":0,"p":-5,"t":"-5"},
{"k":"h","x":50,"h":0,"p":-5,"t":"0"},{"k":"h","x":50,"h":1,"p":-5,"t":"1"},{"k":"h","x":50,"h":2,"p":-5,"t":"2"},{"k":"h","x":50,"h":3,"p":-5,"t":"3"},{"k":"h","x":50,"h":4,"p":-5,"t":"4"},{"k":"h","x":50,"h":5,"p":-5,"t":"5"},{"k":"h","x":50,"h":6,"p":-5,"t":"6"},{"k":"h","x":50,"h":7,"p":-5,"t":"7"},
{"k":"T1","x":0,"h":0,"p":10,"t":"Intensity (mV)"},{"k":"T2","x":30,"h":0,"p":-5,"t":"Time (micro seconds)"},{"k":"T3","x":50,"h":5,"p":-5,"t":"Time (hours)"},
{"k":"cl","x":58.2,"h":-2.79,"p":-5,"t":"("},{"k":"c","x":58.2,"h":-2.79,"p":-5,"t":"b"},{"k":"cr","x":58.2,"h":-2.79,"p":-5,"t":")"}
]},
"transform":[
{"calculate":"datum.x/50","as":"u"},{"calculate":"datum.h/7","as":"v"},{"calculate":"(datum.p+5)/30","as":"w"},
{"calculate":"1-.1262*datum.u+.1524*datum.v-.0863*datum.w","as":"W"},
{"calculate":"(2442+402.2*datum.u+1156.9*datum.v-272.9*datum.w)/datum.W","as":"sx"},
{"calculate":"(1186+172.8*datum.u-205.3*datum.v-950.3*datum.w)/datum.W","as":"sy"}],
"encoding":{"x":{"field":"sx","type":"quantitative"},"y":{"field":"sy","type":"quantitative"},"text":{"field":"t"}},
"layer":[
{"transform":[{"filter":"datum.k=='x'"}],"mark":{"type":"text","font":"Liberation Sans","fontSize":51,"dx":-54,"dy":44,"align":"center","baseline":"middle","color":"#000"}},
{"transform":[{"filter":"datum.k=='z'"}],"mark":{"type":"text","font":"Liberation Sans","fontSize":51,"dx":-29,"dy":10,"align":"right","baseline":"middle","color":"#000"}},
{"transform":[{"filter":"datum.k=='h'"}],"mark":{"type":"text","font":"Liberation Sans","fontSize":51,"dx":42,"dy":12,"align":"center","baseline":"middle","color":"#000"}},
{"transform":[{"filter":"datum.k=='T1'"}],"mark":{"type":"text","font":"Liberation Sans","fontSize":61,"dx":10,"dy":-156,"angle":267,"align":"center","baseline":"middle","color":"#000"}},
{"transform":[{"filter":"datum.k=='T2'"}],"mark":{"type":"text","font":"Liberation Sans","fontSize":62,"dx":-24,"dy":171,"angle":26,"align":"center","baseline":"middle","color":"#000"}},
{"transform":[{"filter":"datum.k=='T3'"}],"mark":{"type":"text","font":"Liberation Sans","fontSize":62,"dx":-63,"dy":107,"angle":333,"align":"center","baseline":"middle","color":"#000"}},
{"transform":[{"filter":"datum.k=='cl'"}],"mark":{"type":"text","font":"Liberation Serif","fontSize":68,"dx":-32,"align":"center","baseline":"middle","color":"#000"}},
{"transform":[{"filter":"datum.k=='c'"}],"mark":{"type":"text","font":"Liberation Serif","fontSize":68,"fontWeight":"bold","align":"center","baseline":"middle","color":"#000"}},
{"transform":[{"filter":"datum.k=='cr'"}],"mark":{"type":"text","font":"Liberation Serif","fontSize":68,"dx":32,"align":"center","baseline":"middle","color":"#000"}}
]}
]}
